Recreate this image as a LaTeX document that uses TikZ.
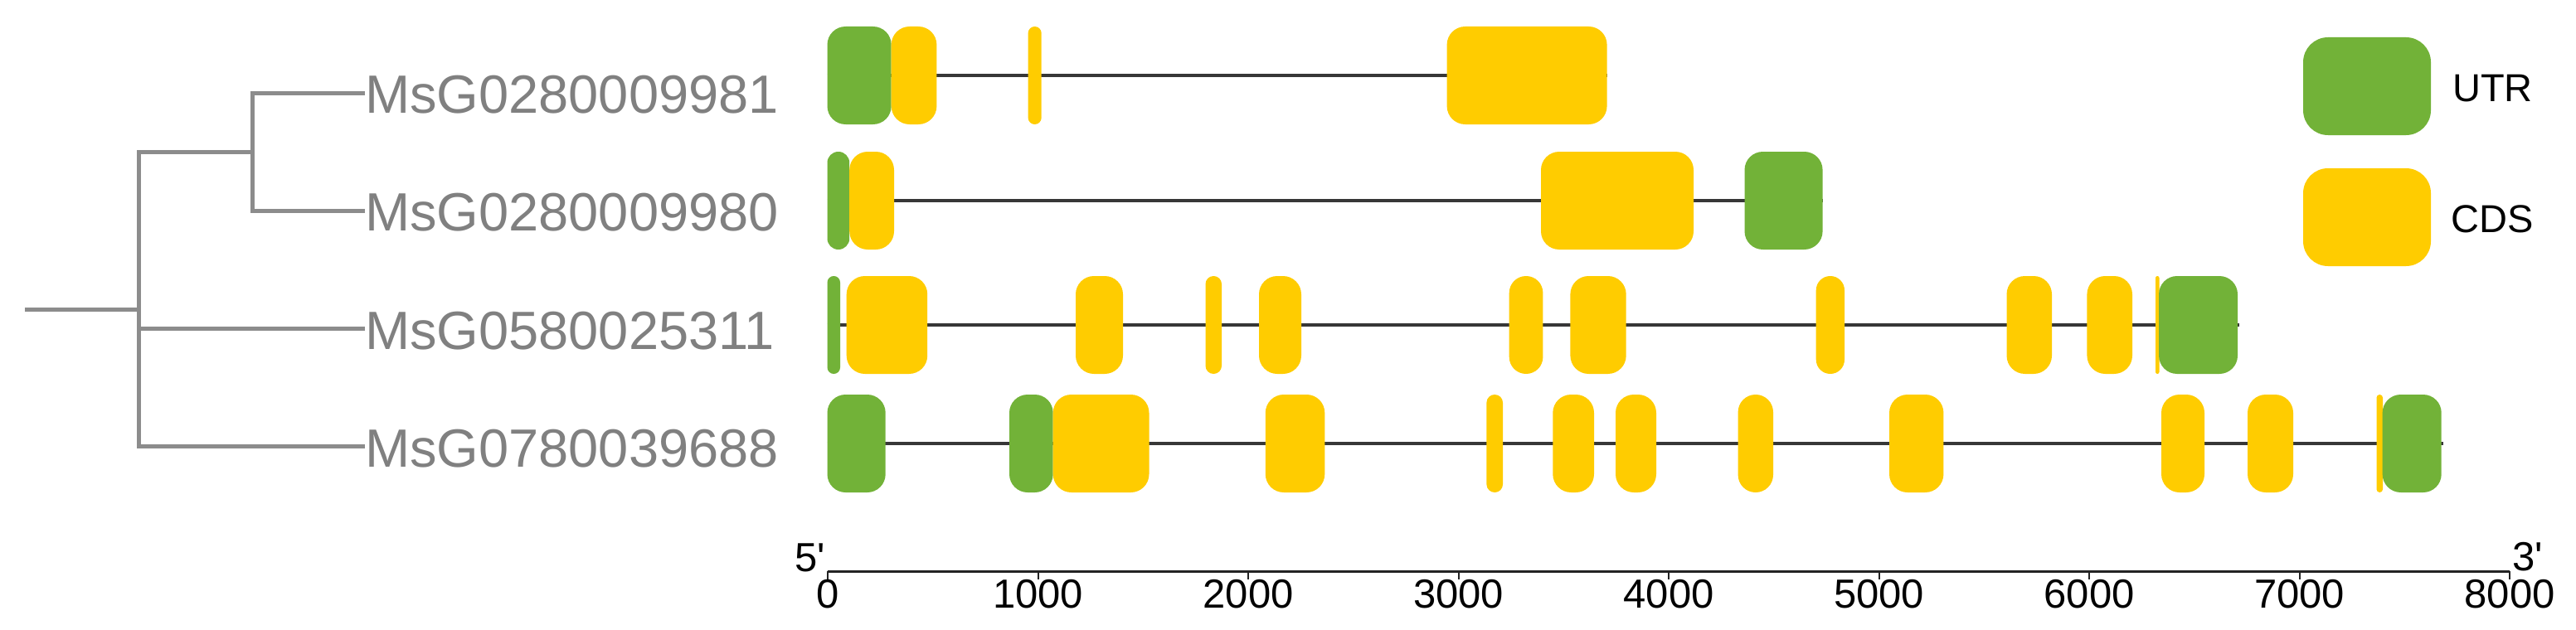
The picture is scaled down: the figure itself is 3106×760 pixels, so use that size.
\documentclass[tikz,border=0pt]{standalone}
\usepackage{fontspec}
\setmainfont{Liberation Sans}[Ligatures=TeXOff]
\definecolor{utr}{RGB}{114,178,56}
\definecolor{cds}{RGB}{255,204,0}
\definecolor{treegray}{RGB}{140,140,140}
\definecolor{labgray}{RGB}{128,128,128}
\definecolor{introncol}{RGB}{55,55,55}
\definecolor{axiscol}{RGB}{35,35,35}
\newcommand{\exonbox}[4]{%
  \pgfmathsetmacro{\exw}{#2-#1}%
  \pgfmathsetmacro{\exr}{min(22,\exw/2-0.05)}%
  \fill[#4, rounded corners=\exr pt] (#1,#3-59) rectangle (#2,#3+59);%
}
\begin{document}
\begin{tikzpicture}[x=1pt,y=-1pt,
  tree/.style={draw=treegray, line width=5pt},
  lab/.style={text=labgray, font=\fontsize{65}{70}\selectfont, inner sep=0pt, anchor=west},
  intronline/.style={draw=introncol, line width=4pt},
  ticklab/.style={text=black, font=\fontsize{49}{55}\selectfont, inner sep=0pt, anchor=base},
  legtext/.style={text=black, font=\fontsize{47}{52}\selectfont, inner sep=0pt, anchor=base west},
  legbox/.style={rounded corners=30pt}]
\useasboundingbox (0,0) rectangle (3106,760);
\fill[white] (0,0) rectangle (3106,760);

% labels
\node[lab] (g1) at (440,114) {MsG0280009981};
\node[lab] (g2) at (440,256) {MsG0280009980};
\node[lab] (g3) at (440,399) {MsG0580025311};
\node[lab] (g4) at (440,541) {MsG0780039688};

% tree
\coordinate (root) at (30,373);
\coordinate (n0) at (167,373);
\coordinate (n1) at (304,183);
\draw[tree] (root) -- (n0);
\draw[tree] ([yshift=3pt]g4.west) -| (n0);
\draw[tree] ([yshift=3pt]g3.west) -| (n0);
\draw[tree] (n1) -| (n0);
\draw[tree] ([yshift=2pt]g1.west) -| (n1);
\draw[tree] ([yshift=2pt]g2.west) -| (n1);

% intron lines
\draw[intronline] (997.5,91) -- (1937.6,91);
\draw[intronline] (997.5,242) -- (2197.6,242);
\draw[intronline] (997.5,392) -- (2700,392);
\draw[intronline] (997.5,535) -- (2946,535);

% row 1
\exonbox{997.5}{1074.7}{91}{utr}
\exonbox{1074.7}{1129.4}{91}{cds}
\exonbox{1239.6}{1255.7}{91}{cds}
\exonbox{1744.6}{1937.6}{91}{cds}
% row 2
\exonbox{997.5}{1024.2}{242}{utr}
\exonbox{1024.2}{1078}{242}{cds}
\exonbox{1858}{2042}{242}{cds}
\exonbox{2103.5}{2197.6}{242}{utr}
% row 3
\exonbox{997.5}{1013}{392}{utr}
\exonbox{1020.7}{1118.2}{392}{cds}
\exonbox{1297}{1354}{392}{cds}
\exonbox{1453.5}{1473}{392}{cds}
\exonbox{1518}{1569}{392}{cds}
\exonbox{1819.7}{1860.4}{392}{cds}
\exonbox{1893.4}{1960.7}{392}{cds}
\exonbox{2189.7}{2224}{392}{cds}
\exonbox{2419.5}{2474}{392}{cds}
\exonbox{2516.4}{2571}{392}{cds}
\exonbox{2599}{2603.5}{392}{cds}
\exonbox{2603}{2698}{392}{utr}
% row 4
\exonbox{997.5}{1067.7}{535}{utr}
\exonbox{1217}{1269.7}{535}{utr}
\exonbox{1269.7}{1385.5}{535}{cds}
\exonbox{1525.8}{1597.3}{535}{cds}
\exonbox{1792.4}{1812}{535}{cds}
\exonbox{1872.3}{1922}{535}{cds}
\exonbox{1948}{1997}{535}{cds}
\exonbox{2095.6}{2138}{535}{cds}
\exonbox{2278}{2343.4}{535}{cds}
\exonbox{2606}{2658}{535}{cds}
\exonbox{2710}{2765}{535}{cds}
\exonbox{2865.5}{2873}{535}{cds}
\exonbox{2872.6}{2943.7}{535}{utr}

% legend
\fill[utr, legbox] (2777,45) rectangle (2931,163);
\fill[cds, legbox] (2777,203) rectangle (2931,321);
\node[legtext] (lu) at (2957,122) {UTR};
\node[legtext] (lc) at (2955,280) {CDS};

% axis
\draw[axiscol, line width=3pt] (998,689) -- (3026,689);
\foreach \i in {0,...,8}{
  \draw[axiscol, line width=2pt] (998+253.5*\i,689) -- (998+253.5*\i,699);
}
\foreach \i/\t in {0/0,1/1000,2/2000,3/3000,4/4000,5/5000,6/6000,7/7000,8/8000}{
  \node[ticklab] (t\i) at (998+253.5*\i,733) {\t};
}
\node[text=black, font=\fontsize{49}{55}\selectfont, inner sep=0pt, anchor=base east] (five) at (995,689) {5'};
\node[text=black, font=\fontsize{49}{55}\selectfont, inner sep=0pt, anchor=base west] (three) at (3029,688) {3'};
\end{tikzpicture}
\end{document}
